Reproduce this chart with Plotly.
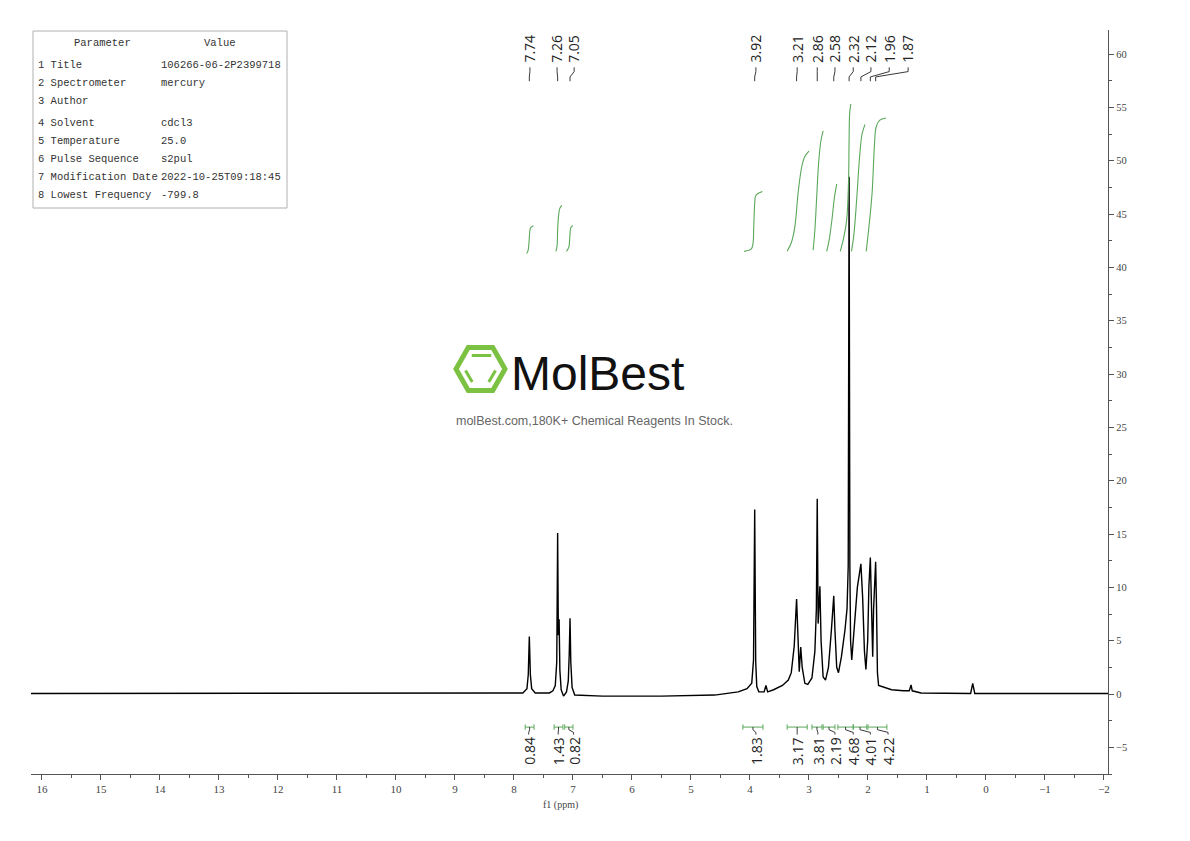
import plotly.graph_objects as go

# ------------------------------------------------------------------ data
# 1H spectrum (ppm, intensity)
spec_ppm = [16.19, 12.0, 8.00, 7.85, 7.78, 7.758, 7.74, 7.722, 7.70, 7.64, 7.40,
            7.34, 7.30, 7.275, 7.26, 7.248, 7.235, 7.222, 7.20, 7.16,
            7.11, 7.08, 7.063, 7.05, 7.037, 7.015, 6.97, 6.50, 5.50, 4.60, 4.20,
            4.05, 3.97, 3.94, 3.92, 3.903, 3.885, 3.85, 3.76, 3.73, 3.70, 3.60, 3.45, 3.35,
            3.30, 3.25, 3.21, 3.185, 3.165, 3.14, 3.115, 3.07, 3.02,
            2.95, 2.90, 2.875, 2.86, 2.845, 2.83, 2.815, 2.795, 2.76, 2.72,
            2.67, 2.62, 2.58, 2.56, 2.53, 2.50,
            2.45, 2.39, 2.355, 2.335, 2.32, 2.307, 2.295, 2.275,
            2.24, 2.18, 2.12, 2.09, 2.06, 2.035,
            2.005, 1.985, 1.96, 1.94, 1.92, 1.905, 1.87, 1.855, 1.84, 1.82,
            1.60, 1.40, 1.30, 1.27, 1.25, 1.10, 0.26, 0.225, 0.19, -2.07]
spec_int = [0.05, 0.05, 0.05, 0.1, 0.5, 1.8, 5.4, 1.8, 0.5, 0.1, 0.1,
            0.3, 0.8, 3.0, 15.1, 5.5, 7.0, 2.2, 0.4, -0.2,
            0.2, 1.2, 3.8, 7.1, 3.0, 0.6, -0.1, -0.2, -0.2, -0.1, 0.2,
            0.5, 1.0, 3.2, 17.3, 3.0, 0.7, 0.2, 0.2, 0.8, 0.2, 0.4, 0.8, 1.3,
            2.0, 4.5, 8.9, 5.0, 2.1, 4.4, 2.5, 1.0, 0.9,
            1.5, 4.0, 8.0, 18.3, 6.6, 8.0, 10.1, 5.0, 1.6, 1.3,
            2.5, 6.0, 9.2, 6.0, 2.5, 2.0,
            3.5, 6.0, 8.0, 12.0, 48.5, 12.0, 5.0, 3.2,
            5.5, 10.0, 12.2, 9.0, 4.0, 2.3,
            5.0, 10.0, 12.8, 8.0, 3.5, 8.0, 12.4, 8.0, 2.0, 0.8,
            0.4, 0.3, 0.3, 0.85, 0.3, 0.1, 0.05, 1.0, 0.05, 0.05]

# peak picking labels
peak_ppm = [7.74, 7.26, 7.05, 3.92, 3.21, 2.86, 2.58, 2.32, 2.12, 1.96, 1.87]
peak_text = ["7.74", "7.26", "7.05", "3.92", "3.21", "2.86", "2.58", "2.32", "2.12", "1.96", "1.87"]

# integrals: range, value, and drawn cumulative curve (ppm, level)
integ_from = [7.81, 7.32, 7.14, 4.12, 3.37, 2.95, 2.76, 2.51, 2.25, 2.00]
integ_to = [7.66, 7.17, 7.00, 3.78, 3.03, 2.78, 2.56, 2.25, 2.02, 1.68]
integ_text = ["0.84", "1.43", "0.82", "1.83", "3.17", "3.81", "2.19", "4.68", "4.01", "4.22"]
integ_curve_ppm = [
    [7.785, 7.76, 7.745, 7.735, 7.72, 7.67],
    [7.29, 7.27, 7.26, 7.245, 7.225, 7.19],
    [7.11, 7.07, 7.055, 7.045, 7.03, 7.00],
    [4.10, 3.98, 3.95, 3.935, 3.92, 3.905, 3.87, 3.79],
    [3.37, 3.30, 3.24, 3.18, 3.12, 3.07, 3.00],
    [2.93, 2.90, 2.87, 2.84, 2.80, 2.76],
    [2.70, 2.66, 2.61, 2.57, 2.53],
    [2.47, 2.41, 2.36, 2.33, 2.32, 2.31, 2.29],
    [2.28, 2.24, 2.19, 2.14, 2.10, 2.05],
    [2.03, 1.98, 1.93, 1.89, 1.86, 1.80, 1.695],
]
integ_curve_lvl = [
    [41.3, 41.6, 42.4, 43.2, 43.7, 43.9],
    [41.5, 42.0, 43.5, 44.8, 45.5, 45.8],
    [41.5, 41.9, 42.8, 43.5, 43.8, 43.9],
    [41.5, 41.7, 42.2, 44.0, 46.0, 46.7, 46.9, 47.1],
    [41.5, 42.3, 43.8, 47.2, 49.5, 50.4, 50.9],
    [41.6, 43.5, 46.5, 49.5, 51.8, 52.8],
    [41.5, 42.5, 44.5, 46.5, 47.8],
    [41.5, 42.8, 44.5, 48.0, 52.0, 54.5, 55.3],
    [41.5, 43.0, 46.5, 50.5, 52.5, 53.4],
    [41.5, 44.0, 47.0, 51.5, 53.2, 53.8, 54.0],
]

# acquisition parameter table
param_names = ["1 Title", "2 Spectrometer", "3 Author", "4 Solvent", "5 Temperature",
               "6 Pulse Sequence", "7 Modification Date", "8 Lowest Frequency"]
param_values = ["106266-06-2P2399718", "mercury", "", "cdcl3", "25.0",
                "s2pul", "2022-10-25T09:18:45", "-799.8"]

x_ticks = list(range(16, -3, -1))

# ------------------------------------------------------------------ layout helpers
# page body has an 8px margin, so the figure is drawn 8px smaller and all
# pixel positions below are given in window coordinates minus that offset
OFF = 8
WIN_W, WIN_H = 1190, 841
W, H = WIN_W - OFF, WIN_H - OFF
PL, PR, PT, PB = 31, 1108, 30, 774          # plot area in window pixels
ML, MR, MT, MB = PL - OFF, W - (PR - OFF), PT - OFF, H - (PB - OFF)
PW, PH = PR - PL, PB - PT


def pxx(x):
    return (x - PL) / PW


def pxy(y):
    return (PB - y) / PH


GREEN = "#5aa85a"
SERIF = "Liberation Serif, DejaVu Serif, serif"
SANS = "Open Sans, Noto Sans, DejaVu Sans, sans-serif"

# label text positions (ppm) for the staggered labels
peak_label_x = [7.73, 7.27, 6.98, 3.90, 3.20, 2.86, 2.56, 2.25, 1.95, 1.64, 1.32]
integ_label_x = [7.75, 7.25, 6.99, 3.90, 3.20, 2.85, 2.56, 2.25, 1.96, 1.66]

fig = go.Figure()

fig.add_trace(go.Scatter(x=spec_ppm, y=spec_int, mode="lines",
                         line=dict(color="black", width=1.4), hoverinfo="skip"))

for cx, cy in zip(integ_curve_ppm, integ_curve_lvl):
    fig.add_trace(go.Scatter(x=cx, y=cy, mode="lines", line=dict(color=GREEN, width=1.1, shape="spline"),
                             hoverinfo="skip"))

shapes = []
annotations = []

# peak labels with connectors
for p, t, lx in zip(peak_ppm, peak_text, peak_label_x):
    annotations.append(dict(x=lx, y=59.0, xref="x", yref="y", text=t, textangle=-90,
                            showarrow=False, xanchor="center", yanchor="bottom",
                            font=dict(family=SANS, size=14, color="#222")))
    shapes.append(dict(type="path", xref="x", yref="y",
                       path=f"M {lx},58.75 L {lx},58.35 L {p},57.85 L {p},57.45",
                       line=dict(color="#222", width=0.9)))

# integral brackets and labels
for a, b, t, lx in zip(integ_from, integ_to, integ_text, integ_label_x):
    c = (a + b) / 2
    shapes.append(dict(type="line", xref="x", yref="y", x0=a, x1=b, y0=-3.1, y1=-3.1,
                       line=dict(color=GREEN, width=1)))
    for e in (a, b):
        shapes.append(dict(type="line", xref="x", yref="y", x0=e, x1=e, y0=-2.85, y1=-3.35,
                           line=dict(color=GREEN, width=1)))
    shapes.append(dict(type="path", xref="x", yref="y",
                       path=f"M {c},-3.1 L {c},-3.35 L {lx},-3.6 L {lx},-3.8",
                       line=dict(color="#222", width=0.9)))
    annotations.append(dict(x=lx, y=-3.85, xref="x", yref="y", text=t, textangle=-90,
                            showarrow=False, xanchor="center", yanchor="top",
                            font=dict(family=SANS, size=14, color="#222")))

# x-axis title
annotations.append(dict(x=pxx(560), y=pxy(797), xref="paper", yref="paper", text="f1 (ppm)",
                        showarrow=False, xanchor="center", yanchor="top",
                        font=dict(family=SERIF, size=10, color="#444")))

# parameter table
shapes.append(dict(type="rect", xref="paper", yref="paper", x0=pxx(33), x1=pxx(287),
                   y0=pxy(208), y1=pxy(31), line=dict(color="#b0b0b0", width=1)))
MONO = "Liberation Mono, DejaVu Sans Mono, monospace"
annotations.append(dict(x=pxx(102), y=pxy(43), xref="paper", yref="paper", text="Parameter",
                        showarrow=False, xanchor="center", yanchor="middle",
                        font=dict(family=MONO, size=10.5, color="#333")))
annotations.append(dict(x=pxx(220), y=pxy(43), xref="paper", yref="paper", text="Value",
                        showarrow=False, xanchor="center", yanchor="middle",
                        font=dict(family=MONO, size=10.5, color="#333")))
row_y = [65, 83, 101, 123, 141, 159, 177, 195]
for nm, val, ry in zip(param_names, param_values, row_y):
    annotations.append(dict(x=pxx(36), y=pxy(ry), xref="paper", yref="paper", text=nm,
                            showarrow=False, xanchor="left", yanchor="middle",
                            font=dict(family=MONO, size=10.5, color="#333")))
    if val:
        annotations.append(dict(x=pxx(159), y=pxy(ry), xref="paper", yref="paper", text=val,
                                showarrow=False, xanchor="left", yanchor="middle",
                                font=dict(family=MONO, size=10.5, color="#333")))

# watermark logo
cx, cy, R, hh = 480.5, 369.0, 24.5, 21.5
hexpts = [(cx - R, cy), (cx - R / 2, cy - hh), (cx + R / 2, cy - hh), (cx + R, cy),
          (cx + R / 2, cy + hh), (cx - R / 2, cy + hh)]
path = "M " + " L ".join(f"{pxx(x)},{pxy(y)}" for x, y in hexpts) + " Z"
shapes.append(dict(type="path", xref="paper", yref="paper", path=path,
                   line=dict(color="#7cc242", width=5)))
r2, h2 = 15.5, 13.5
inner = [((cx - r2 / 2 - 1, cy - h2), (cx + r2 / 2 + 3, cy - h2)),
         ((cx - r2 + 0.5, cy + 1.5), (cx - r2 / 2 - 0.5, cy + h2 - 0.5)),
         ((cx + r2 - 0.5, cy + 1.5), (cx + r2 / 2 + 0.5, cy + h2 - 0.5))]
for (x0, y0), (x1, y1) in inner:
    shapes.append(dict(type="line", xref="paper", yref="paper", x0=pxx(x0), y0=pxy(y0),
                       x1=pxx(x1), y1=pxy(y1), line=dict(color="#7cc242", width=3)))
annotations.append(dict(x=pxx(509), y=pxy(373), xref="paper", yref="paper",
                        text="MolBest",
                        showarrow=False, xanchor="left", yanchor="middle",
                        font=dict(family="Liberation Sans Narrow, Liberation Sans, Arial, sans-serif",
                                  size=48, color="#111")))
annotations.append(dict(x=pxx(594), y=pxy(421), xref="paper", yref="paper",
                        text="molBest.com,180K+ Chemical Reagents In Stock.",
                        showarrow=False, xanchor="center", yanchor="middle",
                        font=dict(family="Liberation Sans, Arial, sans-serif", size=12.5, color="#666")))

fig.update_layout(
    width=W, height=H,
    margin=dict(l=ML, r=MR, t=MT, b=MB, pad=0),
    paper_bgcolor="white", plot_bgcolor="white",
    showlegend=False,
    shapes=shapes, annotations=annotations,
    xaxis=dict(range=[16.186, -2.068], tickmode="array", tickvals=x_ticks,
               ticks="outside", ticklen=5, tickwidth=1, tickcolor="#555",
               showline=True, linecolor="#555", linewidth=1.2,
               showgrid=False, zeroline=False,
               minor=dict(dtick=0.5, ticks="outside", ticklen=3, tickcolor="#555"),
               tickfont=dict(family=SERIF, size=11, color="#444")),
    yaxis=dict(range=[-7.5, 62.25], side="right", tick0=0, dtick=5,
               ticks="outside", ticklen=5, tickwidth=1, tickcolor="#555",
               showline=True, linecolor="#555", linewidth=1.2,
               showgrid=False, zeroline=False,
               minor=dict(dtick=2.5, ticks="outside", ticklen=3, tickcolor="#555"),
               tickfont=dict(family=SERIF, size=10.5, color="#444")),
)

fig.write_html("out.html")
